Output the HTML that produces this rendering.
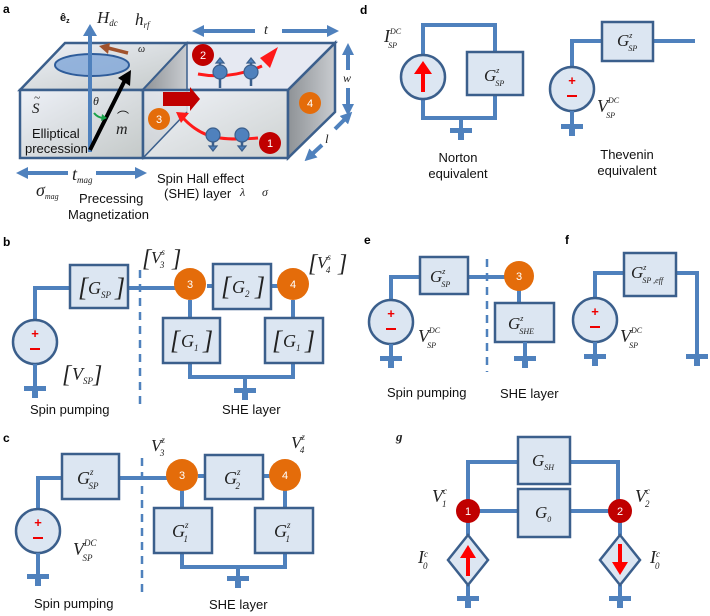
<!DOCTYPE html>
<html><head><meta charset="utf-8"><style>
html,body{margin:0;padding:0;background:#fff;}
svg{display:block;}
.s{font-family:"Liberation Sans",sans-serif;fill:#111;}
.m{font-family:"Liberation Serif",serif;font-style:italic;fill:#222;}
.w{stroke:#4f81bd;stroke-width:4;fill:none;}
.bx{fill:#dce6f2;stroke:#3b5f8c;stroke-width:2.5;}
.nd{font-family:"Liberation Sans",sans-serif;fill:#fff;font-size:11px;text-anchor:middle;}
.lb{font-family:"Liberation Sans",sans-serif;font-weight:bold;font-size:12px;fill:#000;}
</style></head><body>
<svg width="710" height="616" viewBox="0 0 710 616" xmlns="http://www.w3.org/2000/svg">
<defs>
<g id="gnd"><rect x="-11" y="0" width="22" height="5" fill="#4f81bd"/><rect x="-3" y="5" width="6" height="7" fill="#4f81bd"/></g>
<g id="src"><circle r="22" fill="#dce6f2" stroke="#3b5f8c" stroke-width="2.5"/><text x="0" y="-4" font-family="Liberation Sans" font-size="13" font-weight="bold" fill="#e00" text-anchor="middle">+</text><rect x="-5" y="6" width="10" height="2" fill="#e00"/></g>
<linearGradient id="fg" x1="0" y1="0" x2="1" y2="1"><stop offset="0" stop-color="#eef1f8"/><stop offset="1" stop-color="#c4c9c8"/></linearGradient>
<linearGradient id="dg" x1="0" y1="0" x2="1" y2="0"><stop offset="0" stop-color="#8e9296"/><stop offset="1" stop-color="#c9ccd0"/></linearGradient>
<marker id="ab" viewBox="0 0 10 10" refX="5" refY="5" markerWidth="3" markerHeight="3" orient="auto-start-reverse"><path d="M0,0L10,5L0,10z" fill="#4f81bd"/></marker>
</defs>

<!-- ============ Panel a ============ -->
<text class="lb" x="3" y="13">a</text>
<!-- left block -->
<polygon points="20,90 65,43 187,43 143,90" fill="url(#fg)" stroke="#3b5f8c" stroke-width="2.5"/>
<rect x="20" y="90" width="123" height="68" fill="url(#fg)" stroke="#3b5f8c" stroke-width="2.5"/>
<!-- right block -->
<polygon points="143,90 187,43 335,43 288,90" fill="#e6e9f2" stroke="#3b5f8c" stroke-width="2.5"/>
<polygon points="143,90 187,43 187,112 143,158" fill="url(#dg)" stroke="#3b5f8c" stroke-width="1.5"/>
<rect x="143" y="90" width="145" height="68" fill="url(#fg)" fill-opacity="0.85" stroke="#3b5f8c" stroke-width="2.5"/>
<polygon points="288,90 335,43 335,112 288,158" fill="url(#dg)" stroke="#3b5f8c" stroke-width="2.5"/>
<line x1="143" y1="158" x2="187" y2="112" stroke="#3b5f8c" stroke-width="1.5"/>
<!-- ellipse precession -->
<ellipse cx="92" cy="65" rx="37" ry="11" fill="#7fa6d8" fill-opacity="0.8" stroke="#2e5c9a" stroke-width="2"/>
<line x1="90" y1="152" x2="90" y2="34" stroke="#4f81bd" stroke-width="4"/>
<path d="M83,36 L90,24 L97,36z" fill="#4f81bd"/>
<line x1="128" y1="53" x2="108" y2="48" stroke="#a0522d" stroke-width="3.5"/>
<path d="M110,43 L99,46 L108,54z" fill="#a0522d"/>
<line x1="90" y1="150" x2="125" y2="80" stroke="#000" stroke-width="4"/>
<path d="M118,78 L131,70 L130,86z" fill="#000"/>
<path d="M94,113 Q98,118 104,118" stroke="#1aa34a" stroke-width="2" fill="none"/>
<path d="M102,114 L107,118 L101,121z" fill="#1aa34a"/>
<text class="s" x="60" y="21" font-size="11" font-weight="bold">ê<tspan font-size="7" dy="2">z</tspan></text>
<text class="m" x="97" y="23" font-size="17">H<tspan font-size="9" dy="3">dc</tspan></text>
<text class="m" x="135" y="25" font-size="17">h<tspan font-size="9" dy="3">rf</tspan></text>
<text class="m" x="138" y="52" font-size="10">ω</text>
<text class="m" x="93" y="105" font-size="12">θ</text>
<text class="m" x="32" y="113" font-size="15" fill="#888">S</text><text class="m" x="34" y="101" font-size="11" fill="#888">~</text>
<text class="m" x="116" y="134" font-size="16">m</text><text class="s" x="117" y="121" font-size="12" fill="#333">⌒</text>
<text class="s" x="32" y="138" font-size="13">Elliptical</text>
<text class="s" x="25" y="153" font-size="13">precession</text>
<!-- spins and red arrows -->
<path d="M163,92 L190,92 L190,87 L200,99 L190,111 L190,106 L163,106z" fill="#c00000"/>
<path d="M258,138 Q235,140 220,138 Q200,136 183,118" stroke="#ff1a1a" stroke-width="3" fill="none"/>
<path d="M176,112 L189,113 L181,123z" fill="#ff1a1a"/>
<path d="M198,74 Q230,80 262,66" stroke="#ff1a1a" stroke-width="3" fill="none"/>
<path d="M278,47 L270,68 L260,58z" fill="#ff1a1a"/>
<g fill="#4f81bd" stroke="#3b5f8c" stroke-width="1.2">
<line x1="213" y1="128" x2="213" y2="148" stroke-width="2.5" stroke="#3b5f8c"/><path d="M209,146 L213,151 L217,146z"/>
<circle cx="213" cy="135" r="7"/>
<line x1="242" y1="128" x2="242" y2="148" stroke-width="2.5" stroke="#3b5f8c"/><path d="M238,146 L242,151 L246,146z"/>
<circle cx="242" cy="135" r="7"/>
<line x1="220" y1="60" x2="220" y2="88" stroke-width="2.5" stroke="#3b5f8c"/><path d="M216,63 L220,58 L224,63z"/>
<circle cx="220" cy="72" r="7"/>
<line x1="251" y1="60" x2="251" y2="86" stroke-width="2.5" stroke="#3b5f8c"/><path d="M247,63 L251,58 L255,63z"/>
<circle cx="251" cy="72" r="7"/>
</g>
<circle cx="203" cy="55" r="11" fill="#c00000"/><text class="nd" x="203" y="59">2</text>
<circle cx="270" cy="143" r="11" fill="#c00000"/><text class="nd" x="270" y="147">1</text>
<circle cx="159" cy="119" r="11" fill="#e46c0a"/><text class="nd" x="159" y="123">3</text>
<circle cx="310" cy="103" r="11" fill="#e46c0a"/><text class="nd" x="310" y="107">4</text>
<!-- dimension arrows -->
<line x1="198" y1="31" x2="255" y2="31" class="w" marker-start="url(#ab)"/>
<line x1="282" y1="31" x2="333" y2="31" class="w" marker-end="url(#ab)"/>
<text class="m" x="264" y="34" font-size="14">t</text>
<line x1="348" y1="49" x2="348" y2="70" class="w" marker-start="url(#ab)"/>
<line x1="348" y1="88" x2="348" y2="110" class="w" marker-end="url(#ab)"/>
<text class="m" x="343" y="82" font-size="12" fill="#555">w</text>
<line x1="348" y1="116" x2="335" y2="129" class="w" marker-start="url(#ab)"/>
<line x1="322" y1="145" x2="309" y2="157" class="w" marker-end="url(#ab)"/>
<text class="m" x="325" y="143" font-size="13">l</text>
<line x1="22" y1="173" x2="68" y2="173" class="w" marker-start="url(#ab)"/>
<line x1="96" y1="173" x2="141" y2="173" class="w" marker-end="url(#ab)"/>
<text class="m" x="72" y="180" font-size="18">t<tspan font-size="9" dy="3">mag</tspan></text>
<text class="m" x="36" y="196" font-size="18">σ<tspan font-size="8" dy="3">mag</tspan></text>
<text class="s" x="79" y="203" font-size="13">Precessing</text>
<text class="s" x="68" y="219" font-size="13">Magnetization</text>
<text class="s" x="157" y="183" font-size="13">Spin Hall effect</text>
<text class="s" x="164" y="198" font-size="13">(SHE) layer</text>
<text class="m" x="240" y="196" font-size="12">λ</text>
<text class="m" x="262" y="196" font-size="12">σ</text>

<!-- ============ Panel b ============ -->
<text class="lb" x="3" y="246">b</text>
<polyline class="w" points="35,320 35,288 70,288"/>
<line class="w" x1="128" y1="288" x2="192" y2="288"/>
<line class="w" x1="207" y1="286" x2="280" y2="286"/>
<rect class="bx" x="70" y="265" width="58" height="43"/>
<text class="m" x="78" y="296" font-size="26" font-style="normal">[</text>
<text class="m" x="88" y="294" font-size="18">G<tspan font-size="9" dy="4">SP</tspan></text>
<text class="m" x="115" y="296" font-size="26" font-style="normal">]</text>
<line x1="140" y1="270" x2="140" y2="408" stroke="#4f81bd" stroke-width="2.5" stroke-dasharray="8,6"/>
<rect class="bx" x="213" y="264" width="58" height="45"/>
<text class="m" x="221" y="295" font-size="26" font-style="normal">[</text>
<text class="m" x="232" y="293" font-size="18">G<tspan font-size="9" dy="4">2</tspan></text>
<text class="m" x="255" y="295" font-size="26" font-style="normal">]</text>
<polyline class="w" points="190,300 190,317"/>
<polyline class="w" points="293,300 293,317"/>
<polyline class="w" points="190,363 190,377 293,377 293,363"/>
<line class="w" x1="245" y1="377" x2="245" y2="390"/>
<use href="#gnd" x="245" y="388"/>
<rect class="bx" x="163" y="318" width="57" height="45"/>
<text class="m" x="170" y="349" font-size="26" font-style="normal">[</text>
<text class="m" x="181" y="347" font-size="18">G<tspan font-size="9" dy="4">1</tspan></text>
<text class="m" x="203" y="349" font-size="26" font-style="normal">]</text>
<rect class="bx" x="265" y="318" width="58" height="45"/>
<text class="m" x="272" y="349" font-size="26" font-style="normal">[</text>
<text class="m" x="283" y="347" font-size="18">G<tspan font-size="9" dy="4">1</tspan></text>
<text class="m" x="305" y="349" font-size="26" font-style="normal">]</text>
<circle cx="190" cy="284" r="16" fill="#e46c0a"/><text class="nd" x="190" y="288">3</text>
<circle cx="293" cy="284" r="16" fill="#e46c0a"/><text class="nd" x="293" y="288">4</text>
<text class="m" x="142" y="266" font-size="24" font-style="normal">[</text>
<text class="m" x="151" y="263" font-size="17">V<tspan font-size="9" dy="-8">s</tspan><tspan font-size="9" dx="-5" dy="13">3</tspan></text>
<text class="m" x="172" y="266" font-size="24" font-style="normal">]</text>
<text class="m" x="308" y="271" font-size="24" font-style="normal">[</text>
<text class="m" x="317" y="268" font-size="17">V<tspan font-size="9" dy="-8">s</tspan><tspan font-size="9" dx="-5" dy="13">4</tspan></text>
<text class="m" x="338" y="271" font-size="24" font-style="normal">]</text>
<use href="#src" x="35" y="342"/>
<line class="w" x1="35" y1="364" x2="35" y2="388"/>
<use href="#gnd" x="35" y="386"/>
<text class="m" x="62" y="382" font-size="24" font-style="normal">[</text>
<text class="m" x="72" y="380" font-size="18">V<tspan font-size="9" dy="4">SP</tspan></text>
<text class="m" x="93" y="382" font-size="24" font-style="normal">]</text>
<text class="s" x="30" y="414" font-size="13">Spin pumping</text>
<text class="s" x="222" y="414" font-size="13">SHE layer</text>

<!-- ============ Panel c ============ -->
<text class="lb" x="3" y="442">c</text>
<polyline class="w" points="38,510 38,478 62,478"/>
<line class="w" x1="119" y1="478" x2="184" y2="478"/>
<line class="w" x1="198" y1="476" x2="272" y2="476"/>
<rect class="bx" x="62" y="454" width="57" height="45"/>
<text class="m" x="77" y="484" font-size="18">G<tspan font-size="9" dy="-9">z</tspan><tspan font-size="9" dx="-5" dy="14">SP</tspan></text>
<line x1="142" y1="458" x2="142" y2="593" stroke="#4f81bd" stroke-width="2.5" stroke-dasharray="8,6"/>
<rect class="bx" x="205" y="455" width="58" height="44"/>
<text class="m" x="224" y="484" font-size="18">G<tspan font-size="9" dy="-9">z</tspan><tspan font-size="9" dx="-5" dy="14">2</tspan></text>
<polyline class="w" points="182,490 182,508"/>
<polyline class="w" points="285,490 285,508"/>
<polyline class="w" points="182,553 182,567 285,567 285,553"/>
<line class="w" x1="238" y1="567" x2="238" y2="578"/>
<use href="#gnd" x="238" y="576"/>
<rect class="bx" x="154" y="508" width="58" height="45"/>
<text class="m" x="172" y="537" font-size="18">G<tspan font-size="9" dy="-9">z</tspan><tspan font-size="9" dx="-5" dy="14">1</tspan></text>
<rect class="bx" x="255" y="508" width="58" height="45"/>
<text class="m" x="274" y="537" font-size="18">G<tspan font-size="9" dy="-9">z</tspan><tspan font-size="9" dx="-5" dy="14">1</tspan></text>
<circle cx="182" cy="475" r="16" fill="#e46c0a"/><text class="nd" x="182" y="479">3</text>
<circle cx="285" cy="475" r="16" fill="#e46c0a"/><text class="nd" x="285" y="479">4</text>
<text class="m" x="151" y="451" font-size="17">V<tspan font-size="9" dy="-8">z</tspan><tspan font-size="9" dx="-5" dy="13">3</tspan></text>
<text class="m" x="291" y="448" font-size="17">V<tspan font-size="9" dy="-8">z</tspan><tspan font-size="9" dx="-5" dy="13">4</tspan></text>
<use href="#src" x="38" y="531"/>
<line class="w" x1="38" y1="553" x2="38" y2="576"/>
<use href="#gnd" x="38" y="574"/>
<text class="m" x="73" y="555" font-size="18">V<tspan font-size="9" dy="-9">DC</tspan><tspan font-size="9" dx="-14" dy="15">SP</tspan></text>
<text class="s" x="34" y="608" font-size="13">Spin pumping</text>
<text class="s" x="209" y="609" font-size="13">SHE layer</text>

<!-- ============ Panel d ============ -->
<text class="lb" x="360" y="14">d</text>
<polyline class="w" points="423,55 423,25 495,25 495,52"/>
<polyline class="w" points="423,99 423,118 495,118 495,95"/>
<line class="w" x1="461" y1="118" x2="461" y2="130"/>
<use href="#gnd" x="461" y="128"/>
<circle cx="423" cy="77" r="22" fill="#dce6f2" stroke="#3b5f8c" stroke-width="2.5"/>
<line x1="423" y1="92" x2="423" y2="72" stroke="#f00" stroke-width="4"/>
<path d="M414,74 L423,61 L432,74z" fill="#f00"/>
<rect class="bx" x="467" y="52" width="56" height="43"/>
<text class="m" x="484" y="81" font-size="17">G<tspan font-size="8" dy="-8">z</tspan><tspan font-size="8" dx="-4" dy="13">SP</tspan></text>
<text class="m" x="384" y="42" font-size="18">I<tspan font-size="8" dy="-8">DC</tspan><tspan font-size="8" dx="-13" dy="14">SP</tspan></text>
<text class="s" x="458" y="162" font-size="13" text-anchor="middle">Norton</text>
<text class="s" x="458" y="178" font-size="13" text-anchor="middle">equivalent</text>
<polyline class="w" points="572,68 572,41 602,41"/>
<line class="w" x1="653" y1="41" x2="695" y2="41"/>
<rect class="bx" x="602" y="22" width="51" height="39"/>
<text class="m" x="617" y="46" font-size="17">G<tspan font-size="8" dy="-8">z</tspan><tspan font-size="8" dx="-4" dy="13">SP</tspan></text>
<use href="#src" x="572" y="89"/>
<line class="w" x1="572" y1="111" x2="572" y2="126"/>
<use href="#gnd" x="572" y="124"/>
<text class="m" x="597" y="112" font-size="18">V<tspan font-size="8" dy="-9">DC</tspan><tspan font-size="8" dx="-13" dy="15">SP</tspan></text>
<text class="s" x="627" y="159" font-size="13" text-anchor="middle">Thevenin</text>
<text class="s" x="627" y="175" font-size="13" text-anchor="middle">equivalent</text>

<!-- ============ Panel e ============ -->
<text class="lb" x="364" y="244">e</text>
<polyline class="w" points="391,301 391,277 420,277"/>
<line class="w" x1="468" y1="277" x2="508" y2="277"/>
<rect class="bx" x="420" y="257" width="48" height="37"/>
<text class="m" x="430" y="282" font-size="17">G<tspan font-size="8" dy="-8">z</tspan><tspan font-size="8" dx="-4" dy="13">SP</tspan></text>
<line x1="487" y1="259" x2="487" y2="372" stroke="#4f81bd" stroke-width="2.5" stroke-dasharray="8,6"/>
<line class="w" x1="519" y1="288" x2="519" y2="303"/>
<circle cx="519" cy="276" r="15" fill="#e46c0a"/><text class="nd" x="519" y="280">3</text>
<rect class="bx" x="495" y="303" width="59" height="39"/>
<text class="m" x="508" y="329" font-size="17">G<tspan font-size="8" dy="-8">z</tspan><tspan font-size="8" dx="-4" dy="13">SHE</tspan></text>
<line class="w" x1="525" y1="342" x2="525" y2="358"/>
<use href="#gnd" x="525" y="356"/>
<use href="#src" x="391" y="322"/>
<line class="w" x1="391" y1="344" x2="391" y2="358"/>
<use href="#gnd" x="391" y="356"/>
<text class="m" x="418" y="342" font-size="18">V<tspan font-size="8" dy="-9">DC</tspan><tspan font-size="8" dx="-13" dy="15">SP</tspan></text>
<text class="s" x="387" y="397" font-size="13">Spin pumping</text>
<text class="s" x="500" y="398" font-size="13">SHE layer</text>

<!-- ============ Panel f ============ -->
<text class="lb" x="565" y="244">f</text>
<polyline class="w" points="595,299 595,273 624,273"/>
<polyline class="w" points="676,273 697,273 697,356"/>
<use href="#gnd" x="697" y="354"/>
<rect class="bx" x="624" y="253" width="52" height="43"/>
<text class="m" x="631" y="278" font-size="17">G<tspan font-size="8" dy="-8">z</tspan><tspan font-size="8" dx="-4" dy="13">SP ,eff</tspan></text>
<use href="#src" x="595" y="320"/>
<line class="w" x1="595" y1="342" x2="595" y2="356"/>
<use href="#gnd" x="595" y="354"/>
<text class="m" x="620" y="342" font-size="18">V<tspan font-size="8" dy="-9">DC</tspan><tspan font-size="8" dx="-13" dy="15">SP</tspan></text>

<!-- ============ Panel g ============ -->
<text class="m" x="396" y="441" font-size="13" font-weight="bold" font-style="normal">g</text>
<polyline class="w" points="468,505 468,462 518,462"/>
<polyline class="w" points="570,462 618,462 618,505"/>
<line class="w" x1="470" y1="511" x2="518" y2="511"/>
<line class="w" x1="570" y1="511" x2="618" y2="511"/>
<rect class="bx" x="518" y="437" width="52" height="47"/>
<text class="m" x="532" y="466" font-size="17">G<tspan font-size="8" dy="4">SH</tspan></text>
<rect class="bx" x="518" y="489" width="52" height="48"/>
<text class="m" x="535" y="518" font-size="17">G<tspan font-size="8" dy="4">0</tspan></text>
<line class="w" x1="468" y1="515" x2="468" y2="535"/>
<line class="w" x1="620" y1="515" x2="620" y2="535"/>
<line class="w" x1="468" y1="585" x2="468" y2="598"/>
<line class="w" x1="620" y1="585" x2="620" y2="598"/>
<use href="#gnd" x="468" y="596"/>
<use href="#gnd" x="620" y="596"/>
<polygon points="468,535 488,560 468,585 448,560" fill="#dce6f2" stroke="#3b5f8c" stroke-width="2.5"/>
<polygon points="620,535 640,560 620,585 600,560" fill="#dce6f2" stroke="#3b5f8c" stroke-width="2.5"/>
<line x1="468" y1="576" x2="468" y2="556" stroke="#f00" stroke-width="4"/>
<path d="M460,558 L468,545 L476,558z" fill="#f00"/>
<line x1="620" y1="544" x2="620" y2="564" stroke="#f00" stroke-width="4"/>
<path d="M612,562 L620,575 L628,562z" fill="#f00"/>
<circle cx="468" cy="511" r="12" fill="#c00000"/><text class="nd" x="468" y="515">1</text>
<circle cx="620" cy="511" r="12" fill="#c00000"/><text class="nd" x="620" y="515">2</text>
<text class="m" x="432" y="502" font-size="18">V<tspan font-size="9" dy="-8">c</tspan><tspan font-size="9" dx="-5" dy="13">1</tspan></text>
<text class="m" x="635" y="502" font-size="18">V<tspan font-size="9" dy="-8">c</tspan><tspan font-size="9" dx="-5" dy="13">2</tspan></text>
<text class="m" x="418" y="563" font-size="18">I<tspan font-size="9" dy="-6">c</tspan><tspan font-size="9" dx="-5" dy="12">0</tspan></text>
<text class="m" x="650" y="563" font-size="18">I<tspan font-size="9" dy="-6">c</tspan><tspan font-size="9" dx="-5" dy="12">0</tspan></text>
</svg>
</body></html>
